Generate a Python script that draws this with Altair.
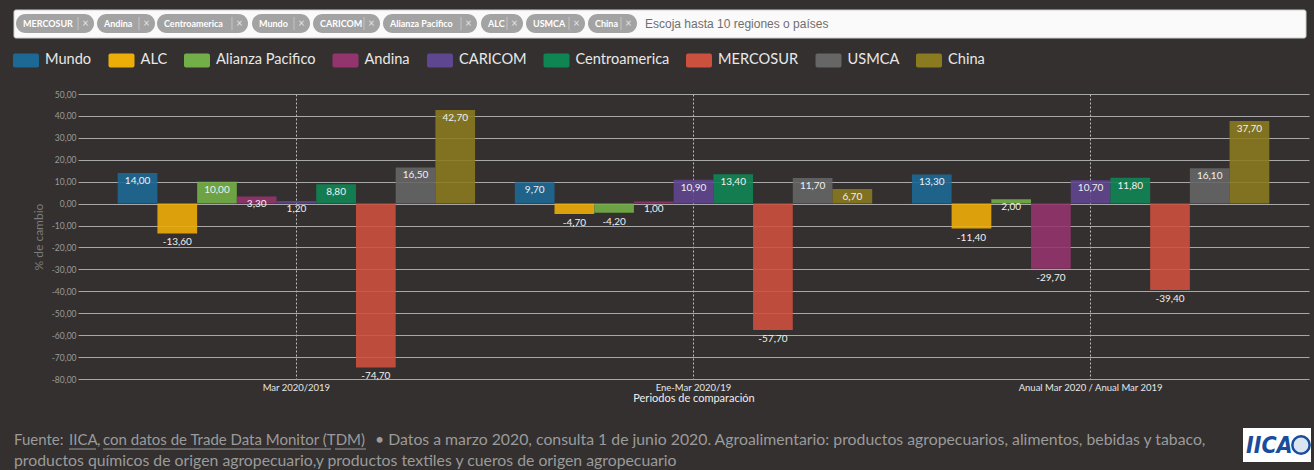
import altair as alt
import pandas as pd

# ---------------- data ----------------
periods = ["Mar 2020/2019", "Ene-Mar 2020/19", "Anual Mar 2020 / Anual Mar 2019"]
regions = ["Mundo", "ALC", "Alianza Pacifico", "Andina", "CARICOM",
           "Centroamerica", "MERCOSUR", "USMCA", "China"]
colors = ["#1D6996", "#EDAD08", "#73AF48", "#94346E", "#5F4690",
          "#0F8554", "#CC503E", "#666666", "#8A7A20"]
mar_2020_2019 = [14.00, -13.60, 10.00, 3.30, 1.20, 8.80, -74.70, 16.50, 42.70]
ene_mar_2020_19 = [9.70, -4.70, -4.20, 1.00, 10.90, 13.40, -57.70, 11.70, 6.70]
anual_mar = [13.30, -11.40, 2.00, -29.70, 10.70, 11.80, -39.40, 16.10, 37.70]
y_ticks = list(range(-80, 51, 10))

pill_labels = ["MERCOSUR", "Andina", "Centroamerica", "Mundo", "CARICOM",
               "Alianza Pacifico", "ALC", "USMCA", "China"]
placeholder = "Escoja hasta 10 regiones o países"
footer_1a = "Fuente:"
footer_1b = "IICA"
footer_1c = ","
footer_1d = "con datos de Trade Data Monitor (TDM)"
footer_1e = "• Datos a marzo 2020, consulta 1 de junio 2020. Agroalimentario: productos agropecuarios, alimentos, bebidas y tabaco,"
footer_2 = "productos químicos de origen agropecuario,y productos textiles y cueros de origen agropecuario"

# ---------------- layout (page pixels) ----------------
OX, OY = 78, 94          # plot origin on the page
W, H = 1231, 285
pill_extent = [(16, 94), (97, 155), (157, 248), (252, 310), (313, 380),
               (383, 477), (481, 523), (526, 585), (588, 637)]
BG = "#33302f"
FONT = "Lato"
FMT = "replace(replace(format({v}, '.2f'), '.', ','), '\u2212', '-')"


def px(x):
    return x - OX


def py(y):
    return y - OY


rows = []
for p, vals in zip(periods, [mar_2020_2019, ene_mar_2020_19, anual_mar]):
    for r, v in zip(regions, vals):
        rows.append({"periodo": p, "region": r, "valor": v})
df = pd.DataFrame(rows)

base = alt.Chart(df).transform_calculate(label=FMT.format(v="datum.valor"))

x_enc = alt.X(
    "periodo:N", sort=periods,
    scale=alt.Scale(paddingInner=0, paddingOuter=0.05),
    title="Periodos de comparación",
    axis=alt.Axis(labelAngle=0, labelColor="#e6e6e6", labelFontSize=9.5,
                  labelFont=FONT, labelPadding=3, domain=False, ticks=False,
                  grid=True, gridDash=[2, 2], gridColor="#bdbdbd", gridWidth=1,
                  bandPosition=0.5, titleColor="#eeeeee", titleFontSize=11,
                  titleFont=FONT, titleFontWeight="normal", titlePadding=1),
)
xo_enc = alt.XOffset("region:N", sort=regions,
                     scale=alt.Scale(paddingInner=0, paddingOuter=0.5))
y_enc = alt.Y(
    "valor:Q", scale=alt.Scale(domain=[-80, 50], nice=False, zero=False),
    title="% de cambio",
    axis=alt.Axis(values=y_ticks,
                  labelExpr=FMT.format(v="datum.value"),
                  labelColor="#9a9a9a", labelFontSize=8.5, labelFont=FONT,
                  labelPadding=2, ticks=False, domain=False,
                  gridColor="#a8a8a8", gridWidth=1,
                  titleColor="#7d7d7d", titleFontSize=12, titleFont=FONT,
                  titleFontWeight="normal", titlePadding=6),
)

sym = ("M-0.85,-0.54 L0.85,-0.54 Q1,-0.54 1,-0.39 L1,0.39 Q1,0.54 0.85,0.54 "
       "L-0.85,0.54 Q-1,0.54 -1,0.39 L-1,-0.39 Q-1,-0.54 -0.85,-0.54 Z")

bars = base.mark_bar(opacity=0.9).encode(
    x=x_enc, xOffset=xo_enc, y=y_enc,
    color=alt.Color(
        "region:N", sort=regions,
        scale=alt.Scale(domain=regions, range=colors),
        legend=alt.Legend(orient="none", legendX=px(13), legendY=py(47),
                          direction="horizontal", title=None,
                          labelFont=FONT, labelFontSize=14.6, labelColor="#e8e8e8",
                          symbolType=sym, symbolSize=676, symbolStrokeWidth=0,
                          symbolOpacity=1, labelOffset=6, columnPadding=16.5),
    ),
)

lab_pos = base.transform_filter("datum.valor >= 0").mark_text(
    baseline="top", dy=3, fontSize=10, font=FONT, color="#f0f0f0"
).encode(x=x_enc, xOffset=xo_enc, y=y_enc, text="label:N")

lab_neg = base.transform_filter("datum.valor < 0").mark_text(
    baseline="top", dy=4, fontSize=10, font=FONT, color="#f0f0f0"
).encode(x=x_enc, xOffset=xo_enc, y=y_enc, text="label:N")

one = pd.DataFrame({"k": [0]})
deco = []

# search box
deco.append(alt.Chart(one).mark_rect(color="#fafafa", stroke="#cfcfcf",
                                     strokeWidth=1, cornerRadius=2).encode(
    x=alt.value(px(14)), x2=alt.value(px(1306)),
    y=alt.value(py(10)), y2=alt.value(py(38))))

for lab, (l, r) in zip(pill_labels, pill_extent):
    deco.append(alt.Chart(one).mark_rect(color="#a3a3a3", cornerRadius=9.5).encode(
        x=alt.value(px(l)), x2=alt.value(px(r)),
        y=alt.value(py(14)), y2=alt.value(py(33))))
    deco.append(alt.Chart(one).mark_text(
        align="left", baseline="middle", fontSize=9, fontWeight="bold",
        font=FONT, color="#ffffff").encode(
        x=alt.value(px(l + 7)), y=alt.value(py(23.5)), text=alt.value(lab)))
    deco.append(alt.Chart(one).mark_rule(color="#c4c4c4", strokeWidth=1).encode(
        x=alt.value(px(r - 16)), y=alt.value(py(17)), y2=alt.value(py(30))))
    deco.append(alt.Chart(one).mark_text(
        align="center", baseline="middle", fontSize=11, font=FONT,
        color="#e4e4e4").encode(
        x=alt.value(px(r - 8.5)), y=alt.value(py(23.5)), text=alt.value("×")))

deco.append(alt.Chart(one).mark_text(
    align="left", baseline="middle", fontSize=12, font="Liberation Sans",
    color="#6f6f6f").encode(
    x=alt.value(px(645)), y=alt.value(py(23.5)), text=alt.value(placeholder)))

# footer
FC = "#9b9b9b"
for txt, xx, fs in [(footer_1a, 14, 15), (footer_1b, 69, 15), (footer_1c, 97, 15),
                    (footer_1d, 103, 15), (footer_1e, 375, 15.8)]:
    deco.append(alt.Chart(one).mark_text(
        align="left", baseline="middle", fontSize=fs, font=FONT, color=FC).encode(
        x=alt.value(px(xx)), y=alt.value(py(440)), text=alt.value(txt)))
deco.append(alt.Chart(one).mark_text(
    align="left", baseline="middle", fontSize=15.8, font=FONT, color=FC).encode(
    x=alt.value(px(14)), y=alt.value(py(461)), text=alt.value(footer_2)))
for l, r in [(69, 96), (103, 331), (335, 366)]:
    deco.append(alt.Chart(one).mark_rule(color=FC, strokeWidth=1).encode(
        x=alt.value(px(l)), x2=alt.value(px(r)), y=alt.value(py(449))))

# logo
deco.append(alt.Chart(one).mark_rect(color="#ffffff").encode(
    x=alt.value(px(1243)), x2=alt.value(px(1311)),
    y=alt.value(py(428)), y2=alt.value(py(462))))
deco.append(alt.Chart(one).mark_text(
    align="left", baseline="middle", fontSize=23, fontWeight=900,
    fontStyle="italic", font="DejaVu Sans Condensed", color="#1b4c9a").encode(
    x=alt.value(px(1246)), y=alt.value(py(446)), text=alt.value("IICA")))
deco.append(alt.Chart(one).mark_point(
    shape="circle", size=300, filled=False, stroke="#1b4c9a", strokeWidth=2.5,
    fill="#dbe5f2", fillOpacity=1, opacity=1).encode(
    x=alt.value(px(1301)), y=alt.value(py(445))))

chart = alt.layer(bars, lab_pos, lab_neg, *deco).properties(
    width=W, height=H,
    padding={"left": OX, "top": OY, "right": 1314 - OX - W, "bottom": 470 - OY - H},
    autosize=alt.AutoSizeParams(type="none"),
    background=BG,
).configure_view(stroke=None)

chart.save("out.html", embed_options={"renderer": "svg", "actions": False})
